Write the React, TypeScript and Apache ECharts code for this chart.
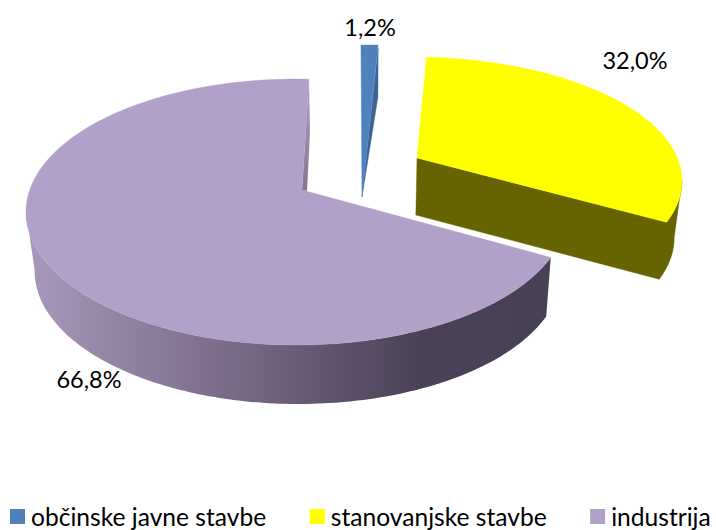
import React, { useEffect, useRef } from "react";
import * as echarts from "echarts";

const categories = ["občinske javne stavbe", "stanovanjske stavbe", "industrija"];
const shares = [1.2, 32.0, 66.8];

const topColors = ["#4f81bd", "#ffff00", "#b1a0c7"];
const FONT = "Lato";
const LABEL_SIZE = 23.5;
const LEGEND_SIZE = 24.6;

type Geo = {
  apex: number[]; centre: number[]; a: number; b: number; A: number; c: number;
  depth: number; label: number[];
};
const geometry: Geo[] = [
  { apex: [362, 197], centre: [370, 185], a: 270, b: 140, A: 1.5, c: -0.007, depth: 52, label: [370, 27] },
  { apex: [417, 158], centre: [412, 181], a: 270, b: 124, A: 2.16, c: -0.07, depth: 57, label: [635, 60] },
  { apex: [302, 190], centre: [296.5, 212], a: 270.5, b: 133, A: 2.125, c: 0.063, depth: 59, label: [89, 379] },
];

const VANISH_X = 370;
const SHRINK = 0.025;

function rimPoint(g: Geo, deg: number): number[] {
  const r = (deg * Math.PI) / 180;
  const dx = Math.sin(r) * g.A + Math.cos(r) * g.c;
  const dy = -Math.cos(r);
  const ox = (g.apex[0] - g.centre[0]) / g.a;
  const oy = (g.apex[1] - g.centre[1]) / g.b;
  const ux = dx / g.a;
  const uy = dy / g.b;
  const qa = ux * ux + uy * uy;
  const qb = 2 * (ox * ux + oy * uy);
  const qc = ox * ox + oy * oy - 1;
  const t = (-qb + Math.sqrt(Math.max(0, qb * qb - 4 * qa * qc))) / (2 * qa);
  return [g.apex[0] + t * dx, g.apex[1] + t * dy];
}

function lower(g: Geo, p: number[]): number[] {
  return [p[0] - (p[0] - VANISH_X) * SHRINK, p[1] + g.depth];
}

function solid(fill: string) {
  return { fill, stroke: fill, lineWidth: 0.4 };
}

function renderSlice(index: number) {
  return (_params: any, api: any) => {
    const value = api.value(0) as number;
    const total = shares.reduce((s, v) => s + v, 0);
    const before = shares.slice(0, index).reduce((s, v) => s + v, 0);
    const start = (before / total) * 360;
    const end = start + (value / total) * 360;
    const g = geometry[index];
    const steps = Math.max(4, Math.round(end - start));
    const rim: number[][] = [];
    for (let i = 0; i <= steps; i++) rim.push(rimPoint(g, start + ((end - start) * i) / steps));

    const children: any[] = [];
    const poly = (points: number[][], style: any) =>
      children.push({ type: "polygon", shape: { points }, style });

    if (index === 0) {
      const e = rim[rim.length - 1];
      poly([[e[0], e[1] + 3], lower({ ...g, depth: g.depth }, e), g.apex], solid("#3a6496"));
    } else if (index === 1) {
      let iMax = 0;
      rim.forEach((p, i) => { if (p[0] > rim[iMax][0]) iMax = i; });
      const outer = rim.slice(iMax);
      poly(
        [...outer, g.apex, lower(g, g.apex), ...outer.map((p) => lower(g, p)).reverse()],
        solid("#666400"),
      );
    } else {
      let iMin = 0;
      rim.forEach((p, i) => { if (p[0] < rim[iMin][0]) iMin = i; });
      const outer = rim.slice(0, iMin + 1);
      poly([...outer, ...outer.map((p) => lower(g, p)).reverse()], {
        fill: new echarts.graphic.LinearGradient(0, 0, 1, 0, [
          { offset: 0, color: "#a898ba" },
          { offset: 0.35, color: "#7f6f8d" },
          { offset: 0.75, color: "#4a4156" },
          { offset: 1, color: "#474155" },
        ]),
      });
      const e = rim[rim.length - 1];
      poly([e, [e[0] + 1, e[1] + 53], [g.apex[0] + 5, g.apex[1] + 1], g.apex], {
        fill: new echarts.graphic.LinearGradient(0, 0, 0, 1, [
          { offset: 0, color: "#b1a0c7" },
          { offset: 0.3, color: "#a292b6" },
          { offset: 1, color: "#85758f" },
        ]),
      });
    }

    poly([g.apex, ...rim], solid(topColors[index]));

    children.push({
      type: "text",
      x: g.label[0],
      y: g.label[1],
      style: {
        text: `${value.toFixed(1).replace(".", ",")}%`,
        fill: "#000",
        font: `${LABEL_SIZE}px ${FONT}`,
        align: "center",
        verticalAlign: "middle",
      },
    });
    return { type: "group", children };
  };
}

export default function App() {
  const ref = useRef<HTMLDivElement>(null);
  useEffect(() => {
    document.body.style.margin = "0";
    const chart = echarts.init(ref.current!, undefined, { renderer: "svg" });
    chart.setOption({
      animation: false,
      backgroundColor: "#ffffff",
      legend: {
        data: categories,
        left: 10,
        top: 504,
        padding: 0,
        itemWidth: 15,
        itemHeight: 15,
        itemGap: 43.5,
        icon: "rect",
        textStyle: { fontFamily: FONT, fontSize: LEGEND_SIZE, color: "#000", padding: [0, 0, 0, 1] },
      },
      series: categories.map((name, i) => ({
        type: "custom",
        name,
        coordinateSystem: "none",
        itemStyle: { color: topColors[i] },
        data: [[shares[i]]],
        renderItem: renderSlice(i),
        silent: true,
      })),
    });
    return () => chart.dispose();
  }, []);
  return <div ref={ref} style={{ position: "absolute", left: 0, top: 0, width: 716, height: 530 }} />;
}
